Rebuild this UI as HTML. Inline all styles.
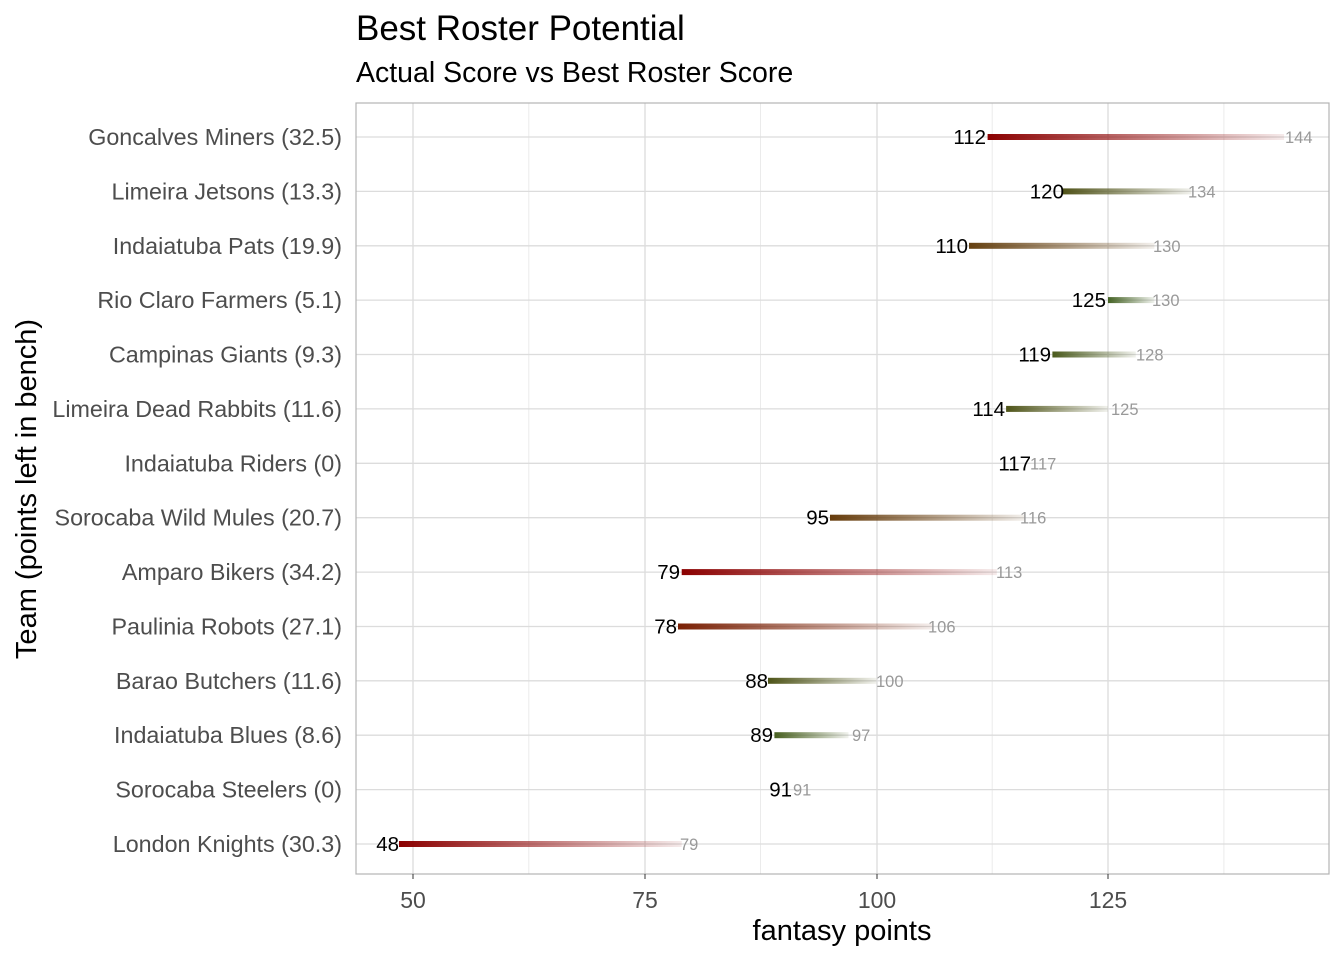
<!DOCTYPE html>
<html><head><meta charset="utf-8"><style>body{margin:0;background:#fff}svg{display:block;font-family:"Liberation Sans",Arial,sans-serif}</style></head>
<body>
<svg width="1344" height="960" viewBox="0 0 1344 960">
<defs>
<linearGradient id="g0" x1="0" x2="1"><stop offset="0" stop-color="#8b0000"/><stop offset="1" stop-color="#8b0000" stop-opacity="0.08"/></linearGradient>
<linearGradient id="g1" x1="0" x2="1"><stop offset="0" stop-color="#4f5218"/><stop offset="1" stop-color="#4f5218" stop-opacity="0.08"/></linearGradient>
<linearGradient id="g2" x1="0" x2="1"><stop offset="0" stop-color="#654010"/><stop offset="1" stop-color="#654010" stop-opacity="0.08"/></linearGradient>
<linearGradient id="g3" x1="0" x2="1"><stop offset="0" stop-color="#446224"/><stop offset="1" stop-color="#446224" stop-opacity="0.08"/></linearGradient>
<linearGradient id="g4" x1="0" x2="1"><stop offset="0" stop-color="#4a5a1c"/><stop offset="1" stop-color="#4a5a1c" stop-opacity="0.08"/></linearGradient>
<linearGradient id="g5" x1="0" x2="1"><stop offset="0" stop-color="#4e5418"/><stop offset="1" stop-color="#4e5418" stop-opacity="0.08"/></linearGradient>
<linearGradient id="g6" x1="0" x2="1"><stop offset="0" stop-color="#663c0c"/><stop offset="1" stop-color="#663c0c" stop-opacity="0.08"/></linearGradient>
<linearGradient id="g7" x1="0" x2="1"><stop offset="0" stop-color="#8b0000"/><stop offset="1" stop-color="#8b0000" stop-opacity="0.08"/></linearGradient>
<linearGradient id="g8" x1="0" x2="1"><stop offset="0" stop-color="#7a2004"/><stop offset="1" stop-color="#7a2004" stop-opacity="0.08"/></linearGradient>
<linearGradient id="g9" x1="0" x2="1"><stop offset="0" stop-color="#486020"/><stop offset="1" stop-color="#486020" stop-opacity="0.08"/></linearGradient>
<linearGradient id="g10" x1="0" x2="1"><stop offset="0" stop-color="#4e5418"/><stop offset="1" stop-color="#4e5418" stop-opacity="0.08"/></linearGradient>
</defs>
<text x="356" y="40" font-size="35">Best Roster Potential</text>
<text x="356" y="82" font-size="28.5">Actual Score vs Best Roster Score</text>
<g stroke="#ebebeb" stroke-width="1">
<line x1="528.8" y1="103" x2="528.8" y2="874"/><line x1="760.5" y1="103" x2="760.5" y2="874"/><line x1="992.2" y1="103" x2="992.2" y2="874"/><line x1="1223.9" y1="103" x2="1223.9" y2="874"/>
</g>
<g stroke="#dcdcdc" stroke-width="1.3">
<line x1="413" y1="103" x2="413" y2="874"/><line x1="645" y1="103" x2="645" y2="874"/><line x1="877" y1="103" x2="877" y2="874"/><line x1="1108" y1="103" x2="1108" y2="874"/>
<line x1="356" y1="137" x2="1329" y2="137"/><line x1="356" y1="191.4" x2="1329" y2="191.4"/><line x1="356" y1="245.8" x2="1329" y2="245.8"/><line x1="356" y1="300.1" x2="1329" y2="300.1"/><line x1="356" y1="354.5" x2="1329" y2="354.5"/><line x1="356" y1="408.9" x2="1329" y2="408.9"/><line x1="356" y1="463.3" x2="1329" y2="463.3"/><line x1="356" y1="517.7" x2="1329" y2="517.7"/><line x1="356" y1="572.1" x2="1329" y2="572.1"/><line x1="356" y1="626.5" x2="1329" y2="626.5"/><line x1="356" y1="680.8" x2="1329" y2="680.8"/><line x1="356" y1="735.2" x2="1329" y2="735.2"/><line x1="356" y1="789.6" x2="1329" y2="789.6"/><line x1="356" y1="844" x2="1329" y2="844"/>
</g>
<rect x="356" y="103" width="973" height="771" fill="none" stroke="#b3b3b3" stroke-width="1.2"/>
<g>
<rect x="987.6" y="134" width="296.5" height="6" fill="url(#g0)"/>
<rect x="1061.7" y="188.4" width="129.7" height="6" fill="url(#g1)"/>
<rect x="969" y="242.8" width="185.4" height="6" fill="url(#g2)"/>
<rect x="1108" y="297.1" width="46.4" height="6" fill="url(#g3)"/>
<rect x="1052.4" y="351.5" width="83.4" height="6" fill="url(#g4)"/>
<rect x="1006.1" y="405.9" width="101.9" height="6" fill="url(#g5)"/>
<rect x="830" y="514.7" width="194.6" height="6" fill="url(#g6)"/>
<rect x="681.7" y="569.1" width="315.1" height="6" fill="url(#g7)"/>
<rect x="678" y="623.5" width="253.9" height="6" fill="url(#g8)"/>
<rect x="768" y="677.8" width="108.4" height="6" fill="url(#g10)"/>
<rect x="774.4" y="732.2" width="74.1" height="6" fill="url(#g9)"/>
<rect x="399" y="841" width="282.7" height="6" fill="url(#g7)"/>
</g>
<g font-size="20.5" text-anchor="end" fill="#000">
<text x="986" y="144">112</text><text x="1064" y="198.4">120</text><text x="968" y="252.8">110</text><text x="1106" y="307.1">125</text><text x="1051" y="361.5">119</text><text x="1005" y="415.9">114</text><text x="1031" y="470.3">117</text><text x="829" y="524.7">95</text><text x="680" y="579.1">79</text><text x="677" y="633.5">78</text><text x="768" y="687.8">88</text><text x="773" y="742.2">89</text><text x="792" y="796.6">91</text><text x="399" y="851">48</text>
</g>
<g font-size="16.5" fill="#999">
<text x="1285" y="143">144</text><text x="1188" y="197.4">134</text><text x="1153" y="251.8">130</text><text x="1152" y="306.1">130</text><text x="1136" y="360.5">128</text><text x="1111" y="414.9">125</text><text x="1030" y="469.3">117</text><text x="1020" y="523.7">116</text><text x="996" y="578.1">113</text><text x="928" y="632.5">106</text><text x="876" y="686.8">100</text><text x="852" y="741.2">97</text><text x="793" y="795.6">91</text><text x="680" y="850">79</text>
</g>
<g font-size="23.3" text-anchor="end" fill="#4d4d4d">
<text x="342" y="145">Goncalves Miners (32.5)</text><text x="342" y="199.4">Limeira Jetsons (13.3)</text><text x="342" y="253.8">Indaiatuba Pats (19.9)</text><text x="342" y="308.1">Rio Claro Farmers (5.1)</text><text x="342" y="362.5">Campinas Giants (9.3)</text><text x="342" y="416.9">Limeira Dead Rabbits (11.6)</text><text x="342" y="471.3">Indaiatuba Riders (0)</text><text x="342" y="525.7">Sorocaba Wild Mules (20.7)</text><text x="342" y="580.1">Amparo Bikers (34.2)</text><text x="342" y="634.5">Paulinia Robots (27.1)</text><text x="342" y="688.8">Barao Butchers (11.6)</text><text x="342" y="743.2">Indaiatuba Blues (8.6)</text><text x="342" y="797.6">Sorocaba Steelers (0)</text><text x="342" y="852">London Knights (30.3)</text>
</g>
<g stroke="#333" stroke-width="1"><line x1="413" y1="874" x2="413" y2="879"/><line x1="645" y1="874" x2="645" y2="879"/><line x1="877" y1="874" x2="877" y2="879"/><line x1="1108" y1="874" x2="1108" y2="879"/></g>
<g font-size="23" text-anchor="middle" fill="#4d4d4d">
<text x="413" y="908">50</text><text x="645" y="908">75</text><text x="877" y="908">100</text><text x="1108" y="908">125</text>
</g>
<text x="842" y="940" font-size="29" text-anchor="middle">fantasy points</text>
<text transform="translate(36,489) rotate(-90)" font-size="29" text-anchor="middle">Team (points left in bench)</text>
</svg>
</body></html>
